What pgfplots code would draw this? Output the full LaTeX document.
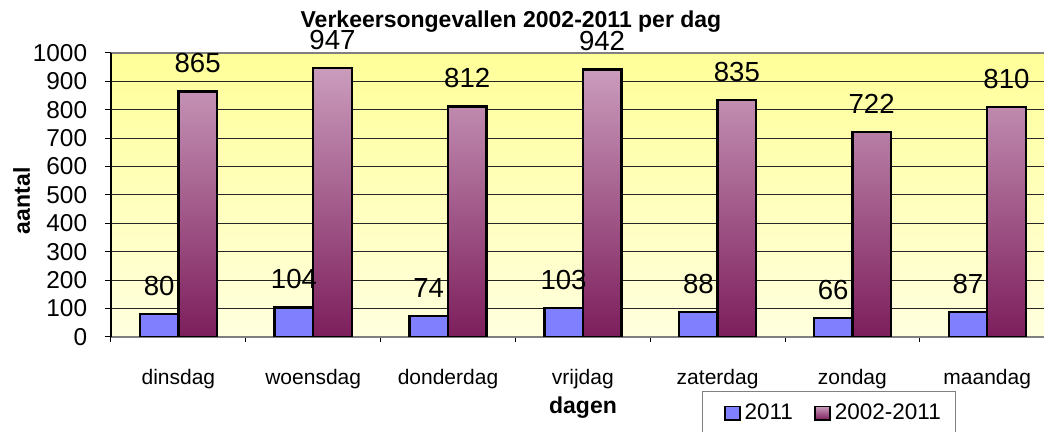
\documentclass[border=0pt]{standalone}
\usepackage{fontspec}
\setmainfont{Liberation Sans}
\usepackage{pgfplots}
\pgfplotsset{compat=1.18}
\definecolor{barblue}{RGB}{128,128,255}
\definecolor{mauvetop}{RGB}{202,156,188}
\definecolor{mauvebot}{RGB}{125,30,92}
\definecolor{bgtop}{RGB}{255,255,153}
\definecolor{bgbot}{RGB}{255,255,222}
\begin{document}
\begin{tikzpicture}
\begin{axis}[
  name=ax,
  scale only axis,
  width=471.8pt, height=142pt,
  xmin=-0.5, xmax=6.5, ymin=0, ymax=1000,
  ybar=0pt, bar width=19.25pt,
  xtick={0,...,6},
  xticklabels={dinsdag,woensdag,donderdag,vrijdag,zaterdag,zondag,maandag},
  minor xtick={-0.5,0.5,...,6.5},
  ytick={0,100,...,1000},
  xtick pos=bottom, ytick pos=left,
  tick align=outside,
  major tick length=3pt,
  minor tick length=2.5pt,
  major x tick style={draw=none},
  minor x tick style={black, line width=0.5pt},
  y tick style={black, line width=0.5pt},
  ymajorgrids,
  major grid style={black!85, line width=0.5pt},
  separate axis lines,
  x axis line style={gray, line width=0.6pt},
  y axis line style={black, line width=0.6pt},
  axis background/.style={top color=bgtop, bottom color=bgbot},
  /pgf/number format/assume math mode=true,
  /pgf/number format/1000 sep={},
  yticklabel style={font=\fontsize{12.2}{14}\selectfont, inner sep=0pt, anchor=east, xshift=-8.75pt},
  xticklabel style={font=\fontsize{10.5}{12}\selectfont, inner sep=0pt, anchor=base, yshift=-21pt},
  title={Verkeersongevallen 2002-2011 per dag},
  title style={at={(axis description cs:0.4239,1.0465)}, anchor=base, font=\bfseries\fontsize{11.5}{13}\selectfont, inner sep=0pt},
  xlabel={dagen},
  xlabel style={at={(axis description cs:0.5002,-0.2711)}, anchor=base, font=\bfseries\fontsize{11.5}{13}\selectfont, inner sep=0pt},
  ylabel={aantal},
  ylabel style={at={(axis description cs:-0.0946,0.4796)}, anchor=center, font=\bfseries\fontsize{11.5}{13}\selectfont, inner sep=0pt},
  legend columns=2,
  legend cell align=left,
  legend style={at={(axis description cs:0.626,-0.19)}, anchor=north west, draw=gray, line width=0.5pt, fill=white, inner xsep=5.5pt, inner ysep=4.4pt, font=\fontsize{11.25}{13}\selectfont, /tikz/every even column/.append style={column sep=3.35pt}},
  legend image code/.code={\path (0pt,-9pt); \draw[#1, line width=0.8pt] (5.15pt,-3.1pt) rectangle (12.65pt,3.6pt);},
  nodes near coords,
  every node near coord/.append style={anchor=base, yshift=9.25pt, font=\fontsize{13.8}{16}\selectfont, inner sep=0pt, black},
]
\addplot[fill=barblue, draw=black, line width=1.2pt] coordinates {(0,80) (1,104) (2,74) (3,103) (4,88) (5,66) (6,87)};
\addplot[top color=mauvetop, bottom color=mauvebot, draw=black, line width=1.2pt] coordinates {(0,865) (1,947) (2,812) (3,942) (4,835) (5,722) (6,810)};
\legend{2011,2002-2011}
\end{axis}
\pgfresetboundingbox
\path[use as bounding box] ([shift={(-55.5pt,-47.5pt)}]ax.south west) rectangle ([shift={(466.5pt,168.5pt)}]ax.south west);
\end{tikzpicture}
\end{document}
